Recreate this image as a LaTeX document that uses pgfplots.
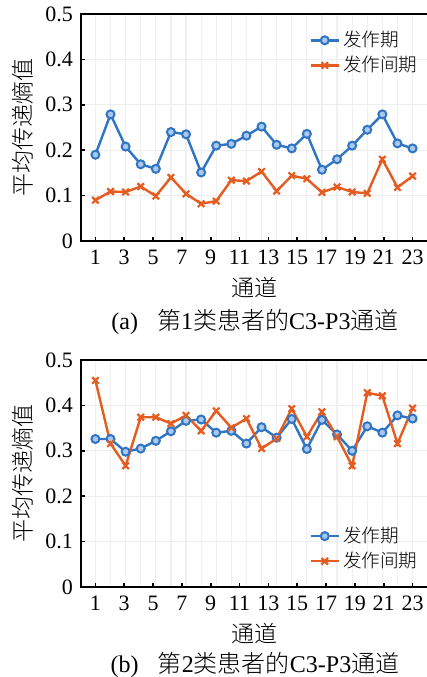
\documentclass[border=0pt]{standalone}
\usepackage{pgfplots}
\pgfplotsset{compat=1.18}
\usepackage{pgfplotstable}
\usepackage{fontspec}
\setmainfont{Liberation Serif}
\newfontfamily\cjk{Noto Sans CJK SC}[UprightFont={* Light}]
\definecolor{mblue}{RGB}{48,116,196}
\definecolor{morange}{RGB}{228,92,32}
\definecolor{lblue}{RGB}{170,200,235}

\pgfplotstableread{
x      a1     b1     a2     b2
1      0.190  0.090  0.326  0.455
2.048  0.279  0.109  0.326  0.316
3.095  0.208  0.108  0.298  0.267
4.143  0.169  0.120  0.305  0.374
5.190  0.159  0.099  0.322  0.374
6.238  0.240  0.140  0.343  0.360
7.286  0.235  0.104  0.366  0.378
8.333  0.151  0.082  0.369  0.344
9.381  0.210  0.088  0.340  0.388
10.429 0.214  0.134  0.344  0.351
11.476 0.232  0.132  0.316  0.371
12.524 0.252  0.153  0.352  0.305
13.571 0.212  0.110  0.329  0.327
14.619 0.204  0.144  0.370  0.393
15.667 0.236  0.137  0.304  0.331
16.714 0.157  0.107  0.368  0.386
17.762 0.180  0.119  0.336  0.331
18.810 0.210  0.108  0.300  0.267
19.857 0.245  0.105  0.354  0.428
20.905 0.279  0.180  0.340  0.421
21.952 0.215  0.118  0.378  0.316
23     0.204  0.143  0.371  0.394
}\data

\pgfplotsset{
  panel/.style={
    width=174pt, height=113.5pt, scale only axis,
    xmin=0, xmax=24.139, ymin=0, ymax=0.5,
    xtick={1,3,...,23},
    xticklabels={1,3,5,7,9,11,13,15,17,19,21,23},
    ytick={0,0.1,0.2,0.3,0.4,0.5},
    yticklabels={0,0.1,0.2,0.3,0.4,0.5},
    minor xtick={1,2.048,3.095,4.143,5.190,6.238,7.286,8.333,9.381,10.429,11.476,12.524,13.571,14.619,15.667,16.714,17.762,18.810,19.857,20.905,21.952,23},
    xminorgrids=true, ymajorgrids=true,
    minor grid style={gray!12, line width=0.6pt},
    major grid style={gray!14, line width=0.6pt},
    minor tick length=0pt,
    major tick length=2pt,
    tick align=inside,
    xtick pos=bottom, ytick pos=left,
    axis line style={line width=0.9pt, black},
    tick style={line width=0.8pt, black},
    ticklabel style={font=\fontsize{11}{12}\selectfont},
    /pgf/number format/assume math mode=true,
    xticklabel style={yshift=-1pt},
    yticklabel style={xshift=-0.5pt},
    xlabel={\cjk 通道},
    ylabel={\cjk 平均传递熵值},
    label style={font=\fontsize{11.5}{12}\selectfont},
    xlabel style={at={(axis description cs:0.5,-0.203)}, anchor=center},
    ylabel style={at={(axis description cs:-0.167,0.5)}, anchor=center},
    legend cell align=left,
    legend style={draw=none, fill=none, font=\cjk\fontsize{9.3}{11}\selectfont,
      row sep=0.3pt, inner sep=0pt, nodes={inner sep=1.5pt}},
    legend image code/.code={\draw[mark repeat=2,mark phase=2] plot coordinates {(0cm,0cm)(0.25cm,0cm)(0.5cm,0cm)};},
  },
  sA/.style={color=mblue, line width=1.2pt, mark=*, mark size=2pt,
    mark options={fill=lblue, draw=mblue, line width=1pt}},
  sB/.style={color=morange, line width=1.2pt, mark=x, mark size=2.3pt,
    mark options={line width=1.1pt}},
}

\begin{document}
\begin{tikzpicture}
\useasboundingbox (0,0) rectangle (213.5pt,338.5pt);
\begin{axis}[panel, at={(40.5pt,218pt)}, anchor=south west,
  legend style={at={(0.655,0.94)}, anchor=north west}]
\addplot[sA] table[x=x,y=a1]{\data};
\addlegendentry{发作期}
\addplot[sB] table[x=x,y=b1]{\data};
\addlegendentry{发作间期}
\end{axis}
\node[font=\fontsize{12}{13}\selectfont] at (127.5pt,177.5pt) {(a)\hspace{0.8em}{\cjk 第}1{\cjk 类患者的}C3-P3{\cjk 通道}};
\begin{axis}[panel, at={(40.5pt,45pt)}, anchor=south west,
  legend style={at={(0.655,0.28)}, anchor=north west}]
\addplot[sA] table[x=x,y=a2]{\data};
\addlegendentry{发作期}
\addplot[sB] table[x=x,y=b2]{\data};
\addlegendentry{发作间期}
\end{axis}
\node[font=\fontsize{12}{13}\selectfont] at (127.5pt,6pt) {(b)\hspace{0.8em}{\cjk 第}2{\cjk 类患者的}C3-P3{\cjk 通道}};
\end{tikzpicture}
\end{document}
